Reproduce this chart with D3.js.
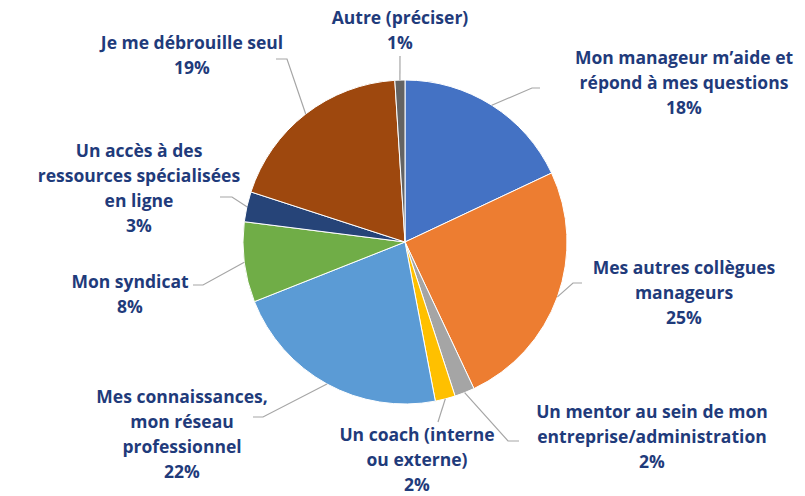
<!DOCTYPE html>
<html>
<head>
  <meta charset="utf-8">
  <title>Pie</title>
  <script src="https://d3js.org/d3.v7.min.js"></script>
  <style>
    body { margin: 0; background: #fff; }
    text { font-family: "Open Sans", Lato, sans-serif; font-weight: bold; fill: #1f3b7b; }
  </style>
</head>
<body>
<script>
var width = 805,
    height = 496;

// data
var categories = [
  "Mon manageur m\u2019aide et r\u00e9pond \u00e0 mes questions",
  "Mes autres coll\u00e8gues managers",
  "Un mentor au sein de mon entreprise/administration",
  "Un coach (interne ou externe)",
  "Mes connaissances, mon r\u00e9seau professionnel",
  "Mon syndicat",
  "Un acc\u00e8s \u00e0 des ressources sp\u00e9cialis\u00e9es en ligne",
  "Je me d\u00e9brouille seul",
  "Autre (pr\u00e9ciser)"
];
var values = [18, 25, 2, 2, 22, 8, 3, 19, 1];
var colors = ["#4472c4", "#ed7d31", "#a5a5a5", "#ffc000", "#5b9bd5", "#70ad47", "#264478", "#9e480e", "#636363"];

// label lines as wrapped in the chart
var labelLines = [
  ["Mon manageur m\u2019aide et", "r\u00e9pond \u00e0 mes questions"],
  ["Mes autres coll\u00e8gues", "manageurs"],
  ["Un mentor au sein de mon", "entreprise/administration"],
  ["Un coach (interne", "ou externe)"],
  ["Mes connaissances,", "mon r\u00e9seau", "professionnel"],
  ["Mon syndicat"],
  ["Un acc\u00e8s \u00e0 des", "ressources sp\u00e9cialis\u00e9es", "en ligne"],
  ["Je me d\u00e9brouille seul"],
  ["Autre (pr\u00e9ciser)"]
];

// layout: label centre x, first baseline y, leader elbow point
var labelLayout = [
  {x: 684, y: 64,  elbow: [532, 88],  end: [540, 88]},
  {x: 684, y: 274, elbow: [573, 283], end: [582, 283]},
  {x: 652, y: 418, elbow: [508, 441], end: [519, 441]},
  {x: 417, y: 441, elbow: null,       end: [438, 422]},
  {x: 182, y: 403, elbow: [263, 417], end: [253, 417]},
  {x: 130, y: 288, elbow: [203, 285], end: [193, 285]},
  {x: 139, y: 157, elbow: [232, 197], end: [220, 197]},
  {x: 192, y: 49,  elbow: [287, 59],  end: [276, 59]},
  {x: 400, y: 24,  elbow: null,       end: [400, 56]}
];

var cx = 405, cy = 242, radius = 162, lineH = 25;

var svg = d3.select("body").append("svg")
  .attr("width", width)
  .attr("height", height);

var pie = d3.pie().sort(null).value(function(d) { return d; });
var arcs = pie(values);

var arc = d3.arc().innerRadius(0).outerRadius(radius);
var outer = d3.arc().innerRadius(radius).outerRadius(radius);

var g = svg.append("g").attr("transform", "translate(" + cx + "," + cy + ")");

g.selectAll("path.slice")
  .data(arcs)
  .enter()
  .append("path")
  .attr("class", "slice")
  .attr("d", arc)
  .attr("fill", function(d, i) { return colors[i]; })
  .attr("stroke", "#fff")
  .attr("stroke-width", 1);

// leader lines
svg.append("g").selectAll("polyline")
  .data(arcs)
  .enter()
  .append("polyline")
  .attr("points", function(d, i) {
    var c = outer.centroid(d);
    var L = labelLayout[i];
    var pts = [[cx + c[0], cy + c[1]]];
    if (L.elbow) pts.push(L.elbow);
    pts.push(L.end);
    return pts.map(function(p) { return p.join(","); }).join(" ");
  })
  .attr("fill", "none")
  .attr("stroke", "#a6a6a6")
  .attr("stroke-width", 1.2);

// labels
var labels = svg.append("g").selectAll("text")
  .data(arcs)
  .enter()
  .append("text")
  .attr("text-anchor", "middle")
  .attr("font-size", 17.5);

labels.each(function(d, i) {
  var t = d3.select(this);
  var L = labelLayout[i];
  var lines = labelLines[i].concat([values[i] + "%"]);
  lines.forEach(function(s, k) {
    t.append("tspan")
      .attr("x", L.x)
      .attr("y", L.y + k * lineH)
      .text(s);
  });
});
</script>
</body>
</html>
